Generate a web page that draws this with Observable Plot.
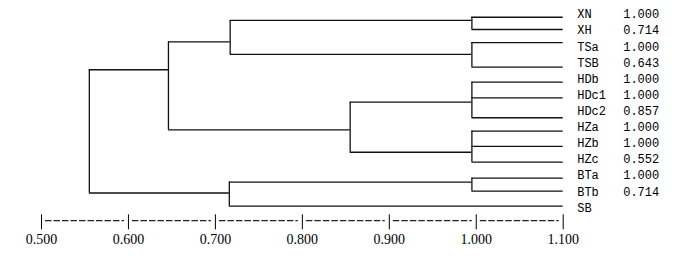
<!DOCTYPE html>
<html><head><meta charset="utf-8">
<script src="https://cdn.jsdelivr.net/npm/d3@7"></script>
<script src="https://cdn.jsdelivr.net/npm/@observablehq/plot@0.6"></script>
<style>
body{margin:0;background:#fff}
#chart svg g[aria-label^="x-axis"] line{stroke-width:1.4px}
</style>
</head><body><div id="chart"></div>
<script>
// Leaves (top to bottom), their printed scores, and the row where each leaf's branch is drawn
const leafNames   = ["XN","XH","TSa","TSB","HDb","HDc1","HDc2","HZa","HZb","HZc","BTa","BTb","SB"];
const leafScores  = ["1.000","0.714","1.000","0.643","1.000","1.000","0.857","1.000","1.000","0.552","1.000","0.714",""];
const leafLineRows = [0.17,0.93,1.74,3.27,4.20,5.17,6.41,7.24,8.19,9.17,10.16,10.97,11.9];

// Clusters: children, similarity level at which they join, row where their stem meets the parent
const clusterIds        = ["c1","c2","c3","c4","c5","c6","c7","c8","c9","root"];
const clusterChildren   = [["XN","XH"],["TSa","TSB"],["HDb","HDc1","HDc2"],["HZa","HZb","HZc"],["BTa","BTb"],
                           ["c1","c2"],["c3","c4"],["c6","c7"],["c5","SB"],["c8","c9"]];
const clusterSimilarity = [0.995,0.995,0.995,0.995,0.995,0.717,0.855,0.646,0.716,0.555];
const clusterRows       = [0.37,2.48,5.44,8.55,10.40,1.70,7.16,3.43,11.08,null];

const tickValues = [0.5,0.6,0.7,0.8,0.9,1.0,1.1];

const LEAF_X = 1.1;
const nodeX = new Map(), nodeRow = new Map();
leafNames.forEach((n,i)=>{ nodeX.set(n, LEAF_X); nodeRow.set(n, leafLineRows[i]); });
clusterIds.forEach((id,i)=>{ nodeX.set(id, clusterSimilarity[i]); nodeRow.set(id, clusterRows[i]); });

const horizontals = [], verticals = [];
clusterIds.forEach((id,i)=>{
  const x = clusterSimilarity[i];
  const rows = clusterChildren[i].map(c => nodeRow.get(c));
  verticals.push({x, y1: d3.min(rows), y2: d3.max(rows)});
  clusterChildren[i].forEach(c => horizontals.push({x1: x, x2: nodeX.get(c), y: nodeRow.get(c)}));
});

const intervals = d3.pairs(tickValues).map(([a,b]) => ({a, b}));
const axisRow = 12.79;

const chart = Plot.plot({
  width: 684, height: 272,
  marginLeft: 41, marginRight: 121.3, marginTop: 14, marginBottom: 57.7,
  x: {domain: [0.5, 1.1], ticks: tickValues, tickFormat: d3.format(".3f"), tickSize: 15, tickPadding: 4, label: null},
  y: {domain: [0, 12], range: [14, 207.3], axis: null},
  style: {fontFamily: "Liberation Serif", fontSize: "14px", color: "#000", background: "#fff", overflow: "visible"},
  marks: [
    Plot.ruleY(intervals, {x1: "a", x2: "b", y: () => axisRow, insetLeft: 4, insetRight: 4,
      stroke: "#222", strokeWidth: 1.2, strokeDasharray: "6.5,2"}),
    Plot.ruleY(horizontals, {x1: "x1", x2: "x2", y: "y", stroke: "#111", strokeWidth: 1.3}),
    Plot.ruleX(verticals, {x: "x", y1: "y1", y2: "y2", stroke: "#111", strokeWidth: 1.3}),
    Plot.text(leafNames, {x: () => LEAF_X, y: (d, i) => i, text: d => d, dx: 14, textAnchor: "start",
      fontFamily: "Liberation Mono", fontSize: 12, fill: "#000"}),
    Plot.text(leafScores, {x: () => LEAF_X, y: (d, i) => i, text: d => d, dx: 60, textAnchor: "start",
      fontFamily: "Liberation Mono", fontSize: 12, fill: "#000"})
  ]
});
document.getElementById("chart").append(chart);
</script>
</body></html>
